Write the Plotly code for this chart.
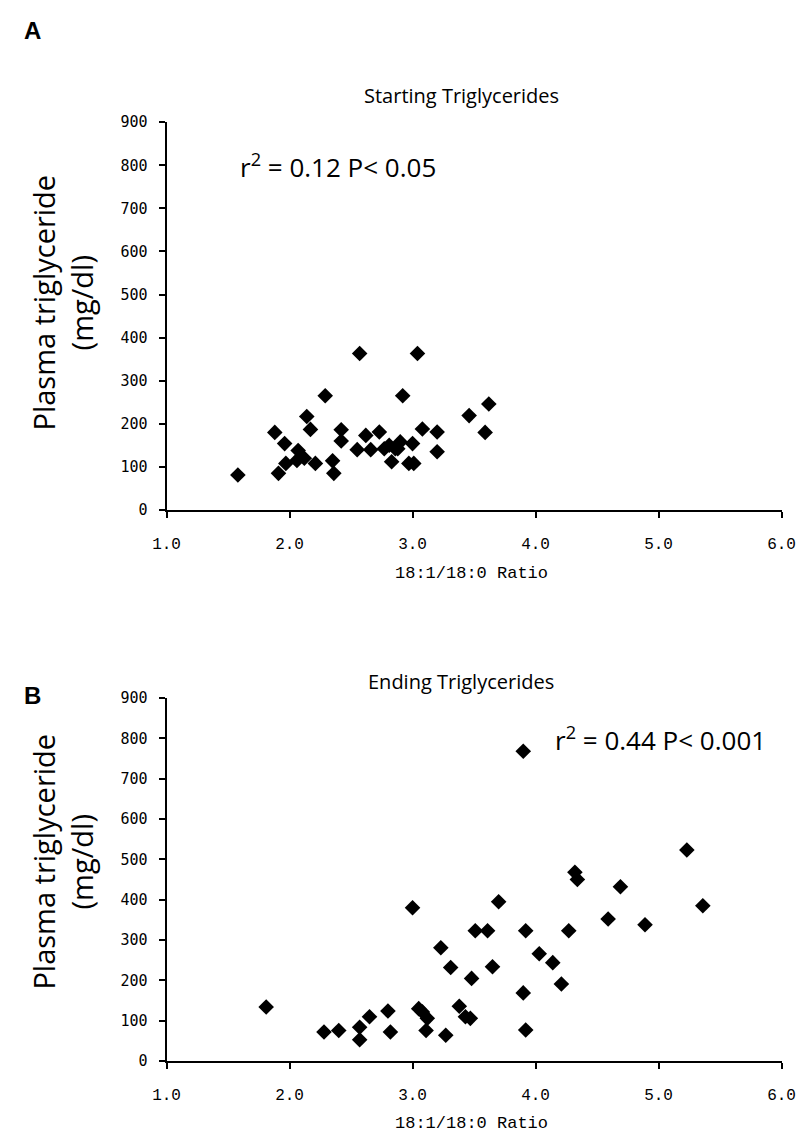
import plotly.graph_objects as go

# Panel A: starting triglycerides
x_start = [1.58, 1.88, 1.91, 1.96, 1.97, 2.07, 2.06, 2.12, 2.14, 2.17, 2.21, 2.29,
           2.35, 2.36, 2.42, 2.42, 2.55, 2.57, 2.62, 2.66, 2.73, 2.77, 2.81, 2.83,
           2.86, 2.88, 2.90, 2.92, 2.97, 3.01, 3.00, 3.04, 3.08, 3.20, 3.20, 3.46,
           3.59, 3.62]
y_start = [81, 180, 85, 154, 108, 138, 115, 120, 217, 187, 108, 265,
           114, 85, 186, 160, 140, 363, 173, 140, 181, 142, 150, 112,
           142, 142, 158, 265, 108, 108, 154, 363, 188, 181, 135, 219,
           180, 246]

# Panel B: ending triglycerides
x_end = [1.81, 2.28, 2.40, 2.57, 2.57, 2.65, 2.80, 2.82, 3.00, 3.05, 3.08, 3.12,
         3.11, 3.23, 3.27, 3.31, 3.38, 3.43, 3.47, 3.48, 3.51, 3.61, 3.65, 3.70,
         3.90, 3.90, 3.92, 3.92, 5.23, 4.32, 4.34, 4.69, 5.36, 4.59, 4.89, 4.27,
         4.03, 4.14, 4.21]
y_end = [134, 72, 76, 53, 84, 110, 124, 72, 380, 130, 122, 106,
         76, 281, 64, 232, 136, 110, 106, 205, 323, 323, 234, 395,
         768, 169, 323, 77, 523, 468, 450, 432, 385, 352, 338, 323,
         266, 244, 191]

x_ticks = [1, 2, 3, 4, 5, 6]
x_ticktext = ["1.0", "2.0", "3.0", "4.0", "5.0", "6.0"]
y_ticks = [0, 100, 200, 300, 400, 500, 600, 700, 800, 900]
y_ticktext = ["0", "100", "200", "300", "400", "500", "600", "700", "800", "900"]

W, H = 811, 1139
def px_x(p):
    return p / W
def px_y(p):
    return 1 - p / H

marker = dict(symbol="diamond", size=12, color="black", line=dict(width=0))

fig = go.Figure()
fig.add_trace(go.Scatter(x=x_start, y=y_start, mode="markers", marker=marker,
                         xaxis="x", yaxis="y", cliponaxis=False, showlegend=False))
fig.add_trace(go.Scatter(x=x_end, y=y_end, mode="markers", marker=marker,
                         xaxis="x2", yaxis="y2", cliponaxis=False, showlegend=False))

tickfont_x = dict(family="Liberation Mono", size=16, color="black")
tickfont_y = dict(family="DejaVu Sans Mono", size=15, color="black")

xaxis_common = dict(range=[1, 6], tickvals=x_ticks, ticktext=x_ticktext,
                    showline=True, linecolor="black", linewidth=2,
                    ticks="outside", ticklen=6, tickwidth=2, tickcolor="black",
                    showgrid=False, zeroline=False, tickfont=tickfont_x,
                    ticklabelstandoff=12, domain=[px_x(158), px_x(795)])
yaxis_common = dict(range=[0, 900], tickvals=y_ticks, ticktext=y_ticktext,
                    showline=True, linecolor="black", linewidth=2,
                    ticks="outside", ticklen=6, tickwidth=2, tickcolor="black",
                    showgrid=False, zeroline=False, tickfont=tickfont_y,
                    ticklabelstandoff=8)

fig.update_layout(
    width=W, height=H,
    margin=dict(l=0, r=0, t=0, b=0),
    paper_bgcolor="white", plot_bgcolor="white",
    xaxis=dict(**xaxis_common, anchor="y"),
    yaxis=dict(**yaxis_common, anchor="x", domain=[px_y(509), px_y(115)]),
    xaxis2=dict(**xaxis_common, anchor="y2"),
    yaxis2=dict(**yaxis_common, anchor="x2", domain=[px_y(1069), px_y(700)]),
)

sans = "Open Sans"
ann = []
def add(text, x, y, size, family=sans, angle=0, xanchor="center", bold=False):
    ann.append(dict(text=("<b>%s</b>" % text) if bold else text,
                    x=px_x(x), y=px_y(y), xref="paper", yref="paper",
                    showarrow=False, xanchor=xanchor, yanchor="middle",
                    textangle=angle, font=dict(family=family, size=size, color="black")))

add("A", 19, 22, 24, family="Liberation Sans", bold=True)
add("B", 19, 698, 24, family="Liberation Sans", bold=True)
add("Starting Triglycerides", 463, 88, 20)
add("Ending Triglycerides", 463, 683, 20)
add("r<sup>2</sup> = 0.12 P&lt; 0.05", 232, 160, 26, xanchor="left")
add("r<sup>2</sup> = 0.44 P&lt; 0.001", 558, 742, 26, xanchor="left")
add("Plasma triglyceride<br>(mg/dl)", 50, 298, 29, angle=-90)
add("Plasma triglyceride<br>(mg/dl)", 50, 866, 29, angle=-90)
add("18:1/18:0 Ratio", 474, 574, 17, family="Liberation Mono")
add("18:1/18:0 Ratio", 474, 1132, 17, family="Liberation Mono")
fig.update_layout(annotations=ann)

fig.write_html("out.html", config={"displayModeBar": False},
               post_script="document.body.style.margin='0';document.body.style.overflow='hidden';")
